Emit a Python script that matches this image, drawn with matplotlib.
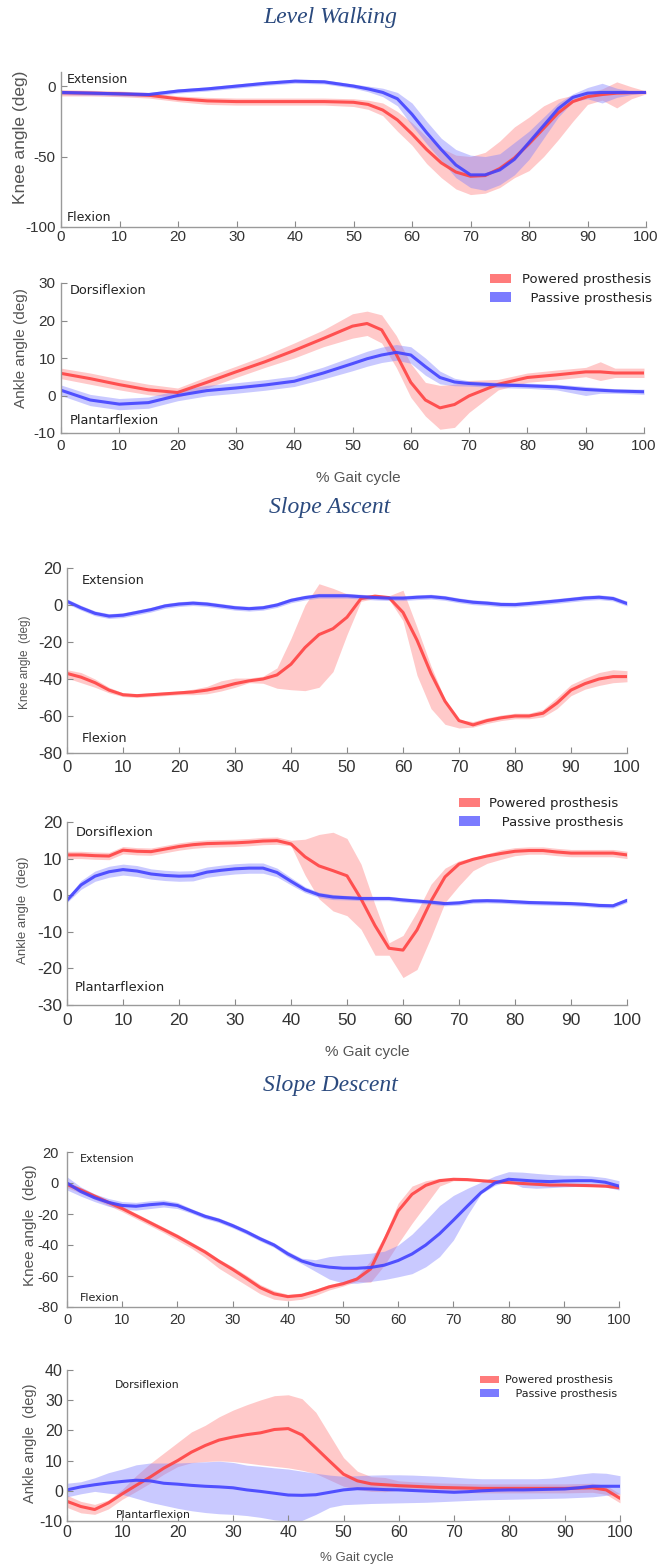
import matplotlib
matplotlib.use("Agg")
import matplotlib.pyplot as plt
from matplotlib.patches import Patch

plt.rcParams['axes.unicode_minus'] = False

W, H = 660, 1568

# ---------------- Level walking ----------------
level_knee_x = [0, 5, 10, 15, 20, 25, 30, 35, 40, 45, 50, 52.5, 55, 57.5, 60, 62.5, 65, 67.5, 70,
                72.5, 75, 77.5, 80, 82.5, 85, 87.5, 90, 92.5, 95, 97.5, 100]
level_knee_powered = [-4.7, -5, -5.5, -6.5, -9, -10.5, -11, -11, -11, -11, -11.5, -13, -17, -24, -34,
                      -45, -54.5, -61, -64, -63.5, -58.5, -51, -41, -30, -19, -11, -7.5, -6, -5, -4.7, -4.5]
level_knee_powered_hi = [-2.5, -3, -3.5, -4.5, -7, -8, -8.5, -8.5, -8.5, -8.5, -9, -10, -12, -18, -26,
                         -36, -44, -49, -50, -47, -39, -29, -22, -14, -9, -6.5, -4.5, -2, 3, -0.5, -3.5]
level_knee_powered_lo = [-7, -7, -7.5, -8.5, -11, -13, -13.5, -13.5, -13.5, -13.5, -14.5, -16.5, -21, -32, -42,
                         -55, -65, -73, -77, -76, -72, -65, -60, -50, -38, -25, -13, -10, -15.5, -9, -5.5]
level_knee_passive = [-4.5, -5, -5.5, -6, -3.5, -2, 0, 2, 3.5, 3, 0, -2, -4.5, -9, -20,
                      -33, -45, -56, -63, -63, -59.5, -52, -40, -28, -16, -8, -5, -4.5, -4.5, -4.5, -4.5]
level_knee_passive_hi = [-3, -3.5, -4, -4.5, -2, -0.5, 1.5, 3.5, 5, 4.5, 1.5, 0, -1.5, -4.5, -12,
                         -25, -37, -45, -49, -50, -48, -40, -32, -22, -12, -5.5, -1, 2, -1.5, -3.5, -4]
level_knee_passive_lo = [-6, -6.5, -7, -7.5, -5, -3.5, -1.5, 0.5, 2, 1.5, -1.5, -4, -7.5, -14, -28,
                         -41, -53, -65, -72, -74, -70, -63, -52, -37, -22, -11, -9, -12, -8, -6, -5]

level_ankle_x = [0, 5, 10, 15, 20, 25, 30, 35, 40, 45, 50, 52.5, 55, 57.5, 60, 62.5, 65, 67.5, 70,
                 75, 80, 85, 90, 92.5, 95, 100]
level_ankle_powered = [5.9, 4.5, 2.9, 1.5, 0.8, 3.5, 6.3, 9, 12, 15.2, 18.5, 19.2, 17.5, 11, 3.5,
                       -1.2, -3.3, -2.4, -0.1, 3, 4.8, 5.5, 6.3, 6.3, 6, 6]
level_ankle_powered_hi = [7.3, 6, 4.4, 3, 2, 5, 7.8, 10.7, 14, 17.5, 21.8, 22.5, 21.5, 16, 8.5,
                          3.5, 2.7, 3, 4, 4.3, 6, 6.8, 7.5, 9, 7.3, 7.3]
level_ankle_powered_lo = [4.5, 3, 1.5, 0.2, -0.5, 2, 4.8, 7.5, 10, 13, 15.3, 16, 14, 7.5, -0.5,
                          -5.5, -9, -8.5, -4.5, 1.5, 3.5, 4.2, 5, 4, 4.8, 4.8]
level_ankle_passive = [1.4, -1.2, -2.3, -1.9, 0, 1.3, 2, 2.8, 3.8, 6, 8.5, 9.8, 10.8, 11.5, 10.8,
                       7.7, 4.8, 3.6, 3.2, 2.8, 2.6, 2.3, 1.6, 1.4, 1.2, 1]
level_ankle_passive_hi = [2.8, 0.3, -0.8, -0.4, 1.4, 2.7, 3.4, 4.2, 5.2, 7.6, 10.4, 11.8, 12.9, 13.6, 13,
                          10, 6.5, 4.6, 3.9, 3.5, 3.3, 3, 2.4, 2.1, 1.8, 1.7]
level_ankle_passive_lo = [0, -2.7, -3.8, -3.4, -1.4, -0.1, 0.6, 1.4, 2.4, 4.4, 6.6, 7.8, 8.8, 9.4, 8.6,
                          5.4, 3.1, 2.6, 2.5, 2.1, 1.9, 1.5, 0, 0.6, 0.6, 0.3]

# sample points for the slope panels (% gait cycle)
gait_x = [0, 2.5, 5, 7.5, 10, 12.5, 15, 17.5, 20, 22.5, 25, 27.5, 30, 32.5, 35, 37.5, 40, 42.5, 45, 47.5,
          50, 52.5, 55, 57.5, 60, 62.5, 65, 67.5, 70, 72.5, 75, 77.5, 80, 82.5, 85, 87.5, 90, 92.5, 95, 97.5, 100]

# ---------------- Slope ascent ----------------
ascent_knee_powered = [-37, -39, -42, -46, -48.5, -49, -48.5, -48, -47.5, -47, -46, -44.5, -42.5, -41, -40,
                       -37.8, -32, -23, -16, -12.8, -6.6, 3.5, 4.8, 4, -4, -19, -37, -52, -62.5, -64.8,
                       -62.5, -61, -60, -60, -58.5, -53, -46, -42.5, -40, -38.7, -38.7]
ascent_knee_powered_hi = [-35, -36.5, -40, -44.5, -47.5, -48, -47.5, -47, -46.5, -45.5, -44, -41, -39.5, -39.5,
                          -38.5, -34, -18, 0, 11.5, 9, 6, 5.5, 5.5, 5, 8, -12, -33, -51, -62, -63, -61,
                          -59.5, -58.5, -58.5, -56.5, -50, -43, -39.5, -36.5, -35, -35.5]
ascent_knee_powered_lo = [-39.5, -42, -44.5, -47.5, -49.5, -50, -49.5, -49, -48.5, -48.5, -48, -46.5, -44.5, -42,
                          -42.3, -45, -45.8, -46.3, -44.5, -36, -16, 2, 3.5, 3, -8.5, -38, -56, -64.5, -66.5,
                          -66, -64, -62.5, -61.5, -61.5, -60.5, -56, -49, -45.5, -43.5, -42, -41.5]
ascent_knee_passive = [2, -1.5, -4.5, -6, -5.5, -4, -2.5, -0.5, 0.5, 1, 0.5, -0.5, -1.5, -2, -1.5, 0, 2.5,
                       4, 5, 5, 5, 4.5, 4, 3.7, 3.7, 4.2, 4.5, 3.8, 2.5, 1.5, 1, 0.3, 0.2, 0.8, 1.5, 2.2,
                       3, 3.8, 4.2, 3.5, 0.8]
ascent_knee_passive_sd = 1.3

ascent_ankle_powered = [11, 11, 10.8, 10.7, 12.3, 12, 11.9, 12.6, 13.3, 13.8, 14.1, 14.2, 14.3, 14.5, 14.8,
                        14.9, 14, 10.5, 8, 6.7, 5.3, -1, -8.3, -14.5, -15, -9.5, -1.6, 5, 8.5, 9.8, 10.7,
                        11.4, 12, 12.2, 12.2, 11.8, 11.5, 11.5, 11.5, 11.5, 11]
ascent_ankle_powered_hi = [12, 12, 11.8, 11.7, 13.3, 13, 12.9, 13.6, 14.3, 14.8, 15.1, 15.2, 15.3, 15.5, 15.8,
                           15.9, 15, 15.3, 16.6, 17.2, 15.5, 8.5, -2.6, -13, -11, -4.5, 3, 7.4, 9.4, 10.3,
                           11.3, 12.4, 13, 13.2, 13.2, 12.8, 12.5, 12.5, 12.5, 12.5, 12]
ascent_ankle_powered_lo = [10, 10, 9.8, 9.7, 11.3, 11, 10.9, 11.6, 12.3, 12.8, 13.1, 13.2, 13.3, 13.5, 13.8,
                           13.9, 13.5, 5.5, -1, -4.3, -5.6, -9.3, -16.4, -16.4, -22.5, -20.3, -11.5, -2, 2.6,
                           6.7, 8.7, 9.8, 10.8, 11.2, 11.2, 10.8, 10.5, 10.5, 10.5, 10.5, 10]
ascent_ankle_passive = [-1.4, 2.8, 5.2, 6.4, 7, 6.6, 5.8, 5.4, 5.2, 5.3, 6.3, 6.8, 7.2, 7.4, 7.4, 6.2, 3.8,
                        1.5, 0.1, -0.5, -0.7, -0.9, -0.9, -0.9, -1.3, -1.6, -1.9, -2.3, -2.1, -1.6, -1.5,
                        -1.6, -1.8, -2, -2.1, -2.2, -2.3, -2.5, -2.8, -2.9, -1.4]
ascent_ankle_passive_sd = [0.6, 1.2, 1.4, 1.5, 1.5, 1.5, 1.4, 1.4, 1.4, 1.4, 1.4, 1.4, 1.4, 1.4, 1.4, 1.2,
                           1, 0.8, 0.7, 0.7, 0.6, 0.6, 0.6, 0.6, 0.6, 0.6, 0.6, 0.6, 0.6, 0.6, 0.6, 0.6,
                           0.6, 0.6, 0.6, 0.6, 0.6, 0.6, 0.6, 0.6, 0.6]

# ---------------- Slope descent ----------------
descent_knee_powered = [-1, -4.5, -8.5, -12.5, -16.5, -21, -25.5, -30, -34.5, -39.5, -44.5, -50.4, -55.7,
                        -61.5, -67.5, -71.5, -73.3, -72.5, -70, -67, -65, -62, -55.5, -37, -18, -7.3, -1.5,
                        1.5, 2.4, 2.2, 1.5, 0.9, 0.3, -0.3, -0.8, -1.3, -1.3, -1.5, -1.7, -2, -3]
descent_knee_powered_hi = [1, -3, -7, -11, -15, -19.5, -24, -28.5, -33, -38, -43, -49, -54, -59.5, -65.5,
                           -69.5, -71.8, -71, -68.5, -65.5, -63.5, -60.5, -50, -34, -13, -2, 1.5, 3, 3.3, 3,
                           2.3, 1.7, 1.1, 0.5, 0, -0.5, -0.5, -0.7, -0.9, -1.2, -2]
descent_knee_powered_lo = [-3, -6.5, -10.5, -14.5, -18.5, -23, -27.5, -32, -37, -42, -48, -55, -60.5, -66,
                           -71.5, -75, -76, -75, -72.5, -69, -66.5, -63.5, -64, -53, -39, -26, -14, -2, 1.5,
                           1.4, 0.7, 0.1, -0.5, -1.1, -1.6, -2.1, -2.1, -2.3, -2.5, -2.8, -4]
descent_knee_passive = [0, -5.5, -9.5, -12.5, -14.5, -15, -14, -13.3, -14.5, -18, -21.5, -24, -27.5, -31.5,
                        -36, -40, -45.7, -50.3, -53, -54.3, -55, -55, -54.5, -53, -50, -45.8, -40, -32.7,
                        -24, -15, -6.2, 0, 2.4, 1.8, 1.2, 0.9, 1.3, 1.5, 1.5, 0.5, -2]
descent_knee_passive_hi = [4, -2.5, -7, -10, -12, -12.5, -11.5, -11, -12.5, -16.5, -20, -22.5, -26, -30,
                           -34.5, -38.5, -44, -48.5, -49.5, -47.5, -46.5, -46, -45.3, -44, -40, -33, -24,
                           -14.5, -8, -3.5, 0.5, 4.5, 7.3, 7, 6.2, 5.5, 5, 5, 4.5, 3.5, 1.5]
descent_knee_passive_lo = [-4.5, -8.5, -12, -15, -17, -17.5, -16.5, -15.5, -16.5, -19.5, -23, -25.5, -29, -33,
                           -37.5, -41.5, -47.5, -52, -57, -62, -64.5, -64.7, -63.5, -62.3, -60.5, -58.5, -54,
                           -47.5, -36.8, -21, -7, -1.5, 1, -2.8, -3.4, -3, -2.5, -2.2, -2, -2.5, -4.5]

descent_ankle_powered = [-3.5, -5.2, -6.2, -4, -1, 1.8, 4.5, 7.5, 10, 12.8, 15, 16.8, 17.8, 18.6, 19.2, 20.3,
                         20.6, 18.5, 14.2, 9.8, 5.5, 3.3, 2.3, 2, 1.7, 1.5, 1.3, 1.1, 1, 0.9, 0.8, 0.8, 0.8,
                         0.8, 0.8, 0.8, 0.8, 0.9, 1, 0.3, -2.5]
descent_ankle_powered_hi = [-1.5, -3.5, -4.5, -3, 0.5, 5, 9, 12.5, 16, 19.5, 21.7, 24.5, 26.7, 28.5, 30.1,
                            31.5, 31.8, 30.5, 26, 18.5, 11, 6.5, 4.7, 4.4, 3.3, 3, 2.8, 2.6, 2.5, 2.4, 2.3,
                            2.3, 2.3, 2.3, 2.3, 2.3, 2.3, 2.4, 2.5, 1.8, -1]
descent_ankle_powered_lo = [-5.5, -7.3, -7.8, -6, -2.8, -0.2, 2.5, 5.5, 8, 9.3, 9.7, 9.9, 9.7, 9.2, 8.6, 8.1,
                            7.6, 6.8, 5.7, 3.6, 1.5, 0.4, -0.2, -0.3, 0.2, 0, -0.2, -0.4, -0.5, -0.6, -0.7,
                            -0.7, -0.7, -0.7, -0.7, -0.7, -0.7, -0.6, -0.5, -1.2, -4]
descent_ankle_passive = [0.3, 1.3, 2, 2.6, 3.1, 3.5, 3.3, 2.5, 2.2, 1.8, 1.5, 1.3, 1, 0.3, -0.2, -0.8, -1.4,
                         -1.5, -1.3, -0.5, 0.3, 0.7, 0.6, 0.4, 0.3, 0.1, -0.1, -0.3, -0.5, -0.3, 0, 0.2, 0.3,
                         0.3, 0.4, 0.5, 0.6, 1, 1.5, 1.5, 1.5]
descent_ankle_passive_hi = [2.5, 3, 4.3, 6, 7.2, 8.6, 9.2, 9.2, 9.2, 9.4, 9.6, 9.8, 9.4, 8.5, 8.1, 7.6, 7.2,
                            6.5, 5.8, 5.2, 4.8, 5, 5.2, 5.3, 5.3, 5.2, 5, 4.8, 4.5, 4.2, 4, 4, 4, 4, 4, 4.2,
                            4.8, 5.5, 6, 5.8, 5]
descent_ankle_passive_lo = [-2, -1, -0.2, -0.8, -1.2, -2.5, -3.8, -4.8, -5.8, -6.6, -7.2, -7.6, -7.8, -8.2,
                            -8.8, -9.6, -10, -9.8, -7.8, -5.5, -4.6, -4.4, -4.2, -4.1, -4, -3.9, -3.8, -3.6,
                            -3.4, -3.2, -3, -2.9, -2.8, -2.7, -2.6, -2.5, -2.4, -2.2, -2, -1.5, -1]

x_ticks = [0, 10, 20, 30, 40, 50, 60, 70, 80, 90, 100]

RED, BLUE = '#ff4343', '#4343ff'
RED_BAND, BLUE_BAND = '#ff8080', '#8080ff'
TICK_FONT = 'Liberation Sans'
NOTE_FONT = 'DejaVu Sans'

fig = plt.figure(figsize=(W / 100, H / 100), dpi=100)


def add_panel(left, right, top, bottom):
    return fig.add_axes([left / W, 1 - bottom / H, (right - left) / W, (bottom - top) / H])


def style(ax, ylim, yticks, size, xpad, ypad):
    ax.set_xlim(0, 100)
    ax.set_ylim(*ylim)
    ax.set_xticks(x_ticks)
    ax.set_yticks(yticks)
    for s in ['top', 'right']:
        ax.spines[s].set_visible(False)
    for s in ['left', 'bottom']:
        ax.spines[s].set_color('#9a9a9a')
        ax.spines[s].set_linewidth(1.0)
    ax.tick_params(direction='in', length=4, width=0.8, color='#8a8a8a', labelcolor='#333333',
                   labelsize=size)
    ax.tick_params(axis='x', pad=xpad)
    ax.tick_params(axis='y', pad=ypad)
    for lab in ax.get_xticklabels() + ax.get_yticklabels():
        lab.set_family(TICK_FONT)


def draw(ax, x, powered, p_lo, p_hi, passive, s_lo, s_hi):
    ax.fill_between(x, p_lo, p_hi, color=RED_BAND, alpha=0.42, lw=0)
    ax.fill_between(x, s_lo, s_hi, color=BLUE_BAND, alpha=0.42, lw=0)
    ax.plot(x, powered, color=RED, lw=2.2, alpha=0.9, solid_capstyle='round')
    ax.plot(x, passive, color=BLUE, lw=2.2, alpha=0.9, solid_capstyle='round')


def sd_band(mean, sd):
    if not isinstance(sd, list):
        sd = [sd] * len(mean)
    return [m - s for m, s in zip(mean, sd)], [m + s for m, s in zip(mean, sd)]


def ylabel(text, xpx, ypx, size):
    fig.text(xpx / W, 1 - ypx / H, text, rotation=90, ha='center', va='center',
             fontsize=size, color='#555555', family=TICK_FONT)


def title(text, ypx):
    fig.text(330 / W, 1 - ypx / H, text, ha='center', va='center', fontsize=17,
             style='italic', color='#2b4a7e', family='Liberation Serif')


def xlabel(text, xpx, ypx, size):
    fig.text(xpx / W, 1 - ypx / H, text, ha='center', va='center', fontsize=size,
             color='#555555', family=TICK_FONT)


def legend(ax, x0, y0, size, spacing, hlen, tpad, indent):
    handles = [Patch(facecolor='#ff7b7b', edgecolor='none'), Patch(facecolor='#7b7bff', edgecolor='none')]
    leg = ax.legend(handles, ['Powered prosthesis', indent + 'Passive prosthesis'], loc='upper left',
                    bbox_to_anchor=(x0, y0), frameon=False, borderpad=0, borderaxespad=0,
                    handlelength=hlen, handleheight=0.7, handletextpad=tpad, labelspacing=spacing,
                    prop={'family': NOTE_FONT, 'size': size})
    for t in leg.get_texts():
        t.set_color('#222222')


def note(ax, x, y, text, size):
    ax.text(x, y, text, ha='left', va='center', fontsize=size, color='#222222', family=NOTE_FONT)


# ---- Level walking ----
title('Level Walking', 18)
ax1 = add_panel(61, 646, 72, 227)
draw(ax1, level_knee_x, level_knee_powered, level_knee_powered_lo, level_knee_powered_hi,
     level_knee_passive, level_knee_passive_lo, level_knee_passive_hi)
style(ax1, (-100, 10), [0, -50, -100], 11, 2.5, 4)
note(ax1, 0.9, 5, 'Extension', 9)
note(ax1, 0.9, -93, 'Flexion', 9)
ylabel('Knee angle (deg)', 21, 137, 12.5)

ax2 = add_panel(61, 644, 283, 433)
draw(ax2, level_ankle_x, level_ankle_powered, level_ankle_powered_lo, level_ankle_powered_hi,
     level_ankle_passive, level_ankle_passive_lo, level_ankle_passive_hi)
style(ax2, (-10, 30), [30, 20, 10, 0, -10], 11, 4, 4)
note(ax2, 1.5, 28, 'Dorsiflexion', 9.3)
note(ax2, 1.5, -6.7, 'Plantarflexion', 9.3)
ylabel('Ankle angle (deg)', 21, 348, 11)
xlabel('% Gait cycle', 358, 478, 11)
legend(ax2, 0.736, 1.065, 9.5, 0.4, 1.6, 0.8, '  ')

# ---- Slope ascent ----
title('Slope Ascent', 507)
ax3 = add_panel(67, 627, 568, 753)
asc_lo, asc_hi = sd_band(ascent_knee_passive, ascent_knee_passive_sd)
draw(ax3, gait_x, ascent_knee_powered, ascent_knee_powered_lo, ascent_knee_powered_hi,
     ascent_knee_passive, asc_lo, asc_hi)
style(ax3, (-80, 20), [20, 0, -20, -40, -60, -80], 12, 5, 3.5)
note(ax3, 2.7, 13.5, 'Extension', 9.2)
note(ax3, 2.7, -72, 'Flexion', 9.2)
ylabel('Knee angle  (deg)', 25, 662, 8.5)

ax4 = add_panel(67, 627, 822, 1005)
asa_lo, asa_hi = sd_band(ascent_ankle_passive, ascent_ankle_passive_sd)
draw(ax4, gait_x, ascent_ankle_powered, ascent_ankle_powered_lo, ascent_ankle_powered_hi,
     ascent_ankle_passive, asa_lo, asa_hi)
style(ax4, (-30, 20), [20, 10, 0, -10, -20, -30], 12.5, 6, 3.5)
note(ax4, 1.6, 17.2, 'Dorsiflexion', 9.4)
note(ax4, 1.3, -25.3, 'Plantarflexion', 9.4)
ylabel('Ankle angle  (deg)', 23, 910, 9.5)
xlabel('% Gait cycle', 367, 1052, 11)
legend(ax4, 0.7, 1.135, 9.5, 0.4, 1.6, 0.7, '   ')

# ---- Slope descent ----
title('Slope Descent', 1085)
ax5 = add_panel(67, 619, 1152, 1307)
draw(ax5, gait_x, descent_knee_powered, descent_knee_powered_lo, descent_knee_powered_hi,
     descent_knee_passive, descent_knee_passive_lo, descent_knee_passive_hi)
style(ax5, (-80, 20), [20, 0, -20, -40, -60, -80], 10.5, 4, 6)
note(ax5, 2.4, 15.5, 'Extension', 8)
note(ax5, 2.4, -74, 'Flexion', 8)
ylabel('Knee angle  (deg)', 30, 1225, 11)

ax6 = add_panel(67, 620, 1370, 1521)
draw(ax6, gait_x, descent_ankle_powered, descent_ankle_powered_lo, descent_ankle_powered_hi,
     descent_ankle_passive, descent_ankle_passive_lo, descent_ankle_passive_hi)
style(ax6, (-10, 40), [40, 30, 20, 10, 0, -10], 11.5, 3, 3)
note(ax6, 8.7, 35, 'Dorsiflexion', 7.8)
note(ax6, 8.9, -7.9, 'Plantarflexion', 7.8)
ylabel('Ankle angle  (deg)', 30, 1443, 10.5)
xlabel('% Gait cycle', 357, 1558, 9.5)
legend(ax6, 0.747, 0.965, 8, 0.3, 1.7, 0.55, '   ')

fig.savefig('out.png', dpi=100)
